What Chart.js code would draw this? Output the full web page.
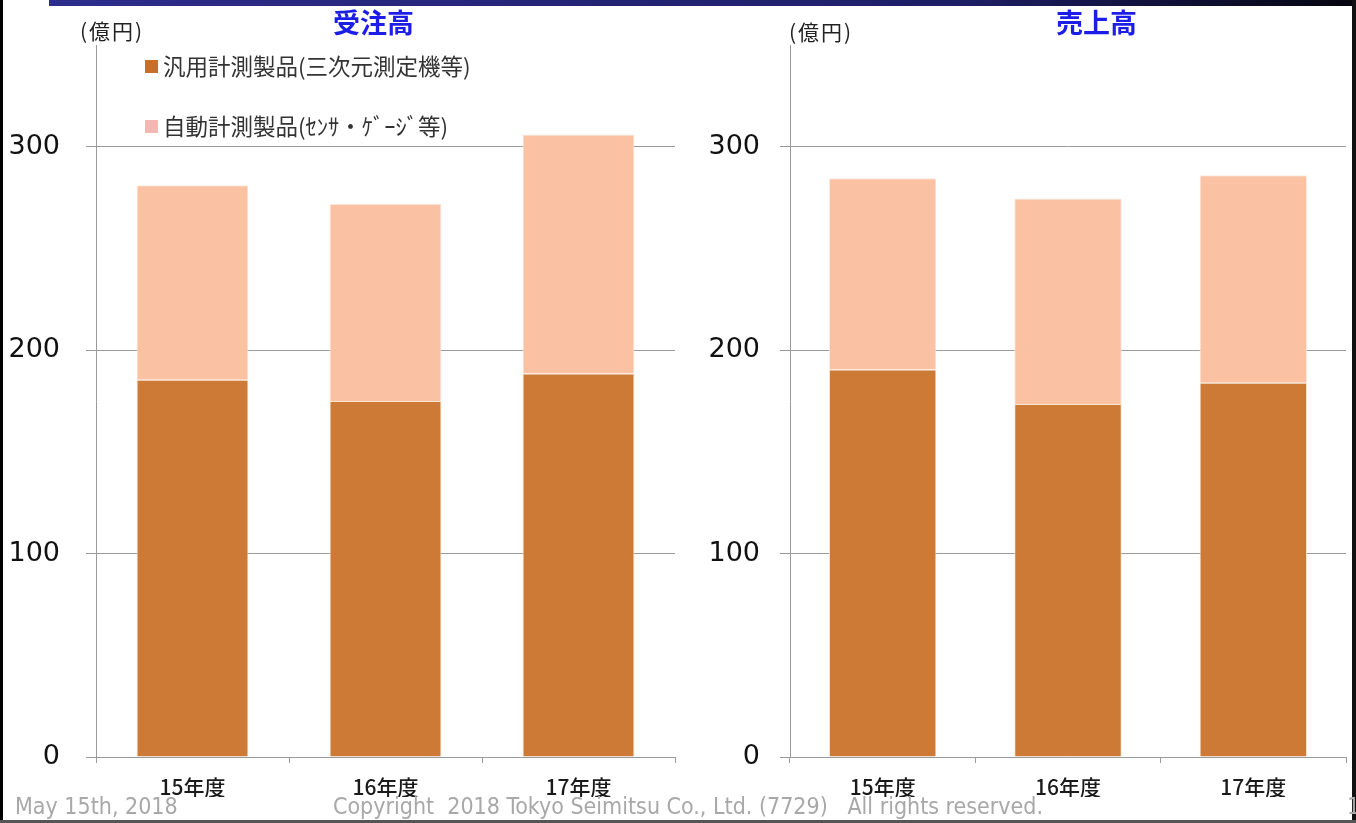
<!DOCTYPE html>
<html>
<head>
<meta charset="utf-8">
<script src="https://cdn.jsdelivr.net/npm/chart.js@4/dist/chart.umd.min.js"></script>
<style>
  body { margin: 0; background: #fff; }
  #page { position: relative; width: 1356px; height: 823px; overflow: hidden; background: #fff; }
  .abs { position: absolute; white-space: nowrap; }
  .title { font-family: "Noto Sans CJK JP"; font-weight: bold; font-size: 27px; color: #1d1de8; }
  .unit { font-family: "Noto Sans CJK JP"; font-size: 21px; letter-spacing: 2px; color: #222; }
  .foot { font-family: "DejaVu Sans Condensed", "DejaVu Sans"; font-size: 23px; color: #a8a8a8; }
</style>
</head>
<body>
<div id="page">
  <div class="abs" style="left:49px;top:0;width:1303px;height:6px;background:linear-gradient(to right,#2d2d8c,#1e1e66 70%,#050510);"></div>
  <div class="abs" style="left:0;top:0;width:3px;height:823px;background:#000;"></div>
  <div class="abs" style="left:1352px;top:0;width:4px;height:823px;background:#111;"></div>

  <canvas id="orders" class="abs" style="left:0;top:0;" width="680" height="823"></canvas>
  <canvas id="sales" class="abs" style="left:690px;top:0;" width="666" height="823"></canvas>

  <div class="abs title" style="left:333px;top:2px;">受注高</div>
  <div class="abs title" style="left:1056px;top:2px;">売上高</div>
  <div class="abs unit" style="left:80px;top:15px;">(億円)</div>
  <div class="abs unit" style="left:789px;top:16px;">(億円)</div>

  <div class="abs foot" style="left:15px;top:793px;">May 15th, 2018</div>
  <div class="abs foot" style="left:333px;top:793px;">Copyright&nbsp; 2018 Tokyo Seimitsu Co., Ltd. (7729)&nbsp;&nbsp; All rights reserved.</div>
  <div class="abs foot" style="left:1347px;top:793px;">1</div>
  <div class="abs" style="left:0;top:820px;width:1356px;height:3px;background:#555;"></div>
</div>
<script>
// fiscal years
const categories = ['15年度', '16年度', '17年度'];
const seriesNames = ['汎用計測製品(三次元測定機等)', '自動計測製品(ｾﾝｻ・ｹﾞｰｼﾞ等)'];

// 受注高 (orders), 億円
const ordersGeneral = [185.5, 175, 188.5];
const ordersAuto = [95.5, 97, 117.5];

// 売上高 (sales), 億円
const salesGeneral = [190.5, 173.5, 184];
const salesAuto = [94, 101, 102];

const yTicks = [0, 100, 200, 300];
const yMax = 350;

const darkColor = '#CD7A37';
const lightColor = '#FAC1A3';

// legend drawn inside the plot area, one item per row
const innerLegend = {
  id: 'innerLegend',
  afterDraw(chart) {
    const ctx = chart.ctx;
    const area = chart.chartArea;
    ctx.save();
    ctx.font = '22.5px "Noto Sans CJK JP"';
    ctx.textBaseline = 'middle';
    chart.data.datasets.forEach((ds, i) => {
      const y = area.top + 21 + i * 60;
      ctx.fillStyle = ds.legendColor || ds.backgroundColor;
      ctx.fillRect(area.left + 49, y - 6, 13, 13);
      ctx.fillStyle = '#333';
      ctx.fillText(ds.label, area.left + 67, y);
    });
    ctx.restore();
  }
};

function makeChart(id, general, auto, opts) {
  const plugins = opts.legend ? [innerLegend] : [];
  return new Chart(document.getElementById(id), {
    type: 'bar',
    data: {
      labels: categories,
      datasets: [
        {
          label: seriesNames[0],
          data: general,
          backgroundColor: darkColor,
          legendColor: '#C96F2C',
          borderColor: '#F7E6D2',
          borderWidth: 1,
          barPercentage: 0.58,
          categoryPercentage: 1
        },
        {
          label: seriesNames[1],
          data: auto,
          backgroundColor: lightColor,
          legendColor: '#F3B7B4',
          borderColor: '#FDEBE0',
          borderWidth: 1,
          barPercentage: 0.58,
          categoryPercentage: 1
        }
      ]
    },
    plugins: plugins,
    options: {
      responsive: false,
      animation: false,
      layout: { padding: { top: 45, left: 0, right: opts.right, bottom: 26 } },
      plugins: {
        legend: { display: false },
        tooltip: { enabled: false }
      },
      scales: {
        x: {
          stacked: true,
          grid: { drawOnChartArea: false, drawTicks: true, tickLength: 6, color: '#9a9a9a', offset: true },
          border: { color: '#9a9a9a' },
          ticks: { font: { family: '"Noto Sans CJK JP"', size: 21, weight: '500' }, color: '#1a1a1a', padding: 11 },
          afterFit: s => { s.height = 40; }
        },
        y: {
          stacked: true,
          min: 0,
          max: yMax,
          ticks: { stepSize: 100, font: { family: '"DejaVu Sans"', size: 27 }, color: '#111', padding: opts.tickPad },
          grid: { color: '#9a9a9a', tickLength: 10 },
          border: { color: '#9a9a9a' },
          afterBuildTicks: s => { s.ticks = yTicks.map(v => ({ value: v })); },
          afterFit: s => { s.width = opts.axisW; }
        }
      }
    }
  });
}

makeChart('orders', ordersGeneral, ordersAuto, { legend: true, right: 5, axisW: 96, tickPad: 26 });
makeChart('sales', salesGeneral, salesAuto, { legend: false, right: 10, axisW: 100, tickPad: 20 });
</script>
</body>
</html>
